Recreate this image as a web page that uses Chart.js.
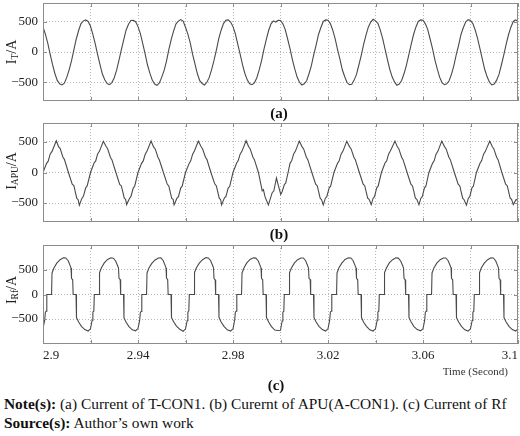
<!DOCTYPE html>
<html><head><meta charset="utf-8">
<script src="https://cdn.jsdelivr.net/npm/chart.js@4/dist/chart.umd.min.js"></script>
<style>
html,body{margin:0;padding:0;background:#fff;}
body{width:520px;height:436px;position:relative;overflow:hidden;font-family:"Liberation Serif","Times New Roman",serif;color:#111;}
canvas{position:absolute;left:0;}
.yt{position:absolute;transform:translate(-50%,-50%) rotate(-90deg);font-size:14px;white-space:nowrap;color:#222;}
.yt sub{font-size:9.5px;vertical-align:-2px;}
.cap{position:absolute;transform:translate(-50%,-50%);font-weight:bold;font-size:15px;}
.txt{position:absolute;white-space:nowrap;}
</style></head><body>
<canvas id="ca" width="520" height="104" style="top:0"></canvas>
<canvas id="cb" width="520" height="104" style="top:120px"></canvas>
<canvas id="cc" width="520" height="130" style="top:242px"></canvas>
<div class="yt" style="left:12px;top:52px">I<sub>T</sub>/A</div>
<div class="yt" style="left:12px;top:171px">I<sub>APU</sub>/A</div>
<div class="yt" style="left:12px;top:290px">I<sub>Rf</sub>/A</div>
<div class="cap" style="left:279px;top:113px">(a)</div>
<div class="cap" style="left:279px;top:234px">(b)</div>
<div class="cap" style="left:276px;top:385px">(c)</div>
<div class="txt" style="right:12px;top:365px;font-size:11px;color:#333">Time (Second)</div>
<div class="txt" style="left:4px;top:395px;font-size:15.4px"><b>Note(s):</b> (a) Current of T-CON1. (b) Curernt of APU(A-CON1). (c) Current of Rf</div>
<div class="txt" style="left:4px;top:414px;font-size:15.4px"><b>Source(s):</b> Author’s own work</div>
<script>
// time origin (s) and sample step of series (a) (s)
const T0 = 2.9;
const STEP_A = 0.001;
// x-axis ticks
const xTickValues = [2.9,2.92,2.94,2.96,2.98,3.0,3.02,3.04,3.06,3.08,3.1];
const xTickLabels = ['2.9','','2.94','','2.98','','3.02','','3.06','','3.1'];
// y-axis ticks
const yTickValues = [-500,0,500];
const yTickLabels = ['\u2212500','0','500'];
// (a) current of T-CON1, A, one sample per ms from 2.9 s
const iT = [
 415,295,145,-35,-205,-355,-470,-525,-545,-515,-420,-295,-145,35,215,355,470,515,530,505,
 425,290,135,-45,-210,-365,-460,-520,-540,-505,-425,-300,-135,40,205,365,460,520,525,500,
 420,305,140,-30,-215,-350,-465,-530,-550,-510,-415,-305,-150,45,210,350,465,510,535,510,
 410,295,150,-40,-200,-360,-475,-520,-545,-500,-420,-290,-140,30,220,360,470,525,530,495,
 420,300,130,-35,-210,-355,-460,-525,-540,-510,-430,-300,-145,40,205,355,465,515,495,525,
 520,465,370,215,55,-125,-280,-415,-500,-545,-525,-475,-360,-225,-45,115,290,405,505,530,
 525,470,360,220,45,-115,-290,-405,-505,-540,-535,-465,-370,-215,-55,125,280,415,495,540,
 515,475,365,225,50,-120,-285,-410,-495,-550,-530,-470,-360,-220,-50,120,285,410,505,530,
 525,465,370,215,55,-130,-280,-415,-505,-540,-525,-475,-365,-225,-45,115,290,405,500,535,
 520,470,360,220,50,-120,-290,-410,-500,-545,-530,-465,-370,-215,-50,125,285,410,505,530,
 510];
// (b) current of APU, [time in ms after 2.9 s, A]
const iAPU = [
 [0,0],[1.5,150],[2.2,185],[3,300],[3.8,345],[5.6,520],[6.6,420],[7.2,395],[8.4,250],[9,215],[10.7,0],[12.3,-190],[13,-215],[14.2,-420],[14.8,-445],[15.3,-535],[16.4,-420],[17,-390],[18,-250],[18.6,-220],
 [20,0],[21.5,155],[22.2,190],[23,305],[23.8,350],[25.4,510],[26.6,425],[27.2,390],[28.4,245],[29,210],[30.7,0],[32.3,-195],[33,-220],[34.2,-415],[34.8,-440],[35.2,-525],[36.4,-425],[37,-395],[38,-255],[38.6,-225],
 [40,0],[41.5,150],[42.2,190],[43,295],[43.8,350],[45.5,515],[46.6,415],[47.2,390],[48.4,250],[49,205],[50.7,0],[52.3,-190],[53,-225],[54.2,-425],[54.8,-440],[55.2,-530],[56.4,-420],[57,-400],[58,-250],[58.6,-225],
 [60,0],[61.5,145],[62.2,190],[63,300],[63.8,355],[65.4,515],[66.6,420],[67.2,385],[68.4,250],[69,215],[70.7,0],[72.3,-185],[73,-220],[74.2,-420],[74.8,-445],[75.2,-530],[76.4,-415],[77,-395],[78,-250],[78.6,-230],
 [80,0],[81.5,150],[82.2,195],[83,300],[83.8,350],[85.5,520],[86.6,420],[87.2,390],[88.4,250],[89,210],[90.7,0],[92.3,-300],[92.8,-280],[93.5,-400],[94.9,-530],[96.5,-330],[97.2,-300],[98.3,-90],[99,-200],[100.1,-360],
 [100.7,-310],[101.6,-200],[102.2,-170],[103.2,0],[104,150],[104.7,190],[105.5,300],[106.3,350],[107.9,515],[109.1,420],[109.7,390],[110.9,250],[111.5,210],[113.2,0],[114.8,-190],[115.5,-220],[116.7,-420],[117.3,-445],[118,-530],[118.9,-420],[119.5,-395],
 [120.5,-250],[121.1,-225],[122.5,0],[124,150],[124.7,190],[125.5,300],[126.3,350],[127.9,510],[129.1,420],[129.7,390],[130.9,250],[131.5,210],[133.2,0],[134.8,-190],[135.5,-220],[136.7,-420],[137.3,-440],[138.2,-525],[139,-420],[139.6,-395],
 [140.5,-250],[141.1,-225],[142.5,0],[144,155],[144.7,190],[145.5,300],[146.3,355],[148.2,515],[149.2,420],[149.8,390],[151,250],[151.6,210],[153.3,0],[154.9,-190],[155.6,-220],[156.8,-420],[157.4,-440],[158.3,-530],[159.1,-420],[159.7,-395],
 [160.6,-250],[161.2,-225],[162.5,0],[164,150],[164.7,190],[165.5,300],[166.3,350],[167.9,515],[169.1,420],[169.7,390],[170.9,250],[171.5,210],[173.2,0],[174.8,-190],[175.5,-220],[176.7,-420],[177.3,-445],[178.3,-535],[179.1,-420],[179.7,-395],
 [180.6,-250],[181.2,-225],[182.5,0],[184,150],[184.7,195],[185.5,300],[186.3,350],[188.1,515],[189.2,420],[189.8,390],[191,250],[191.6,210],[193.2,0],[194.8,-190],[195.5,-220],[196.7,-420],[197.3,-440],[198,-525],[199.2,-440],[200,-455]];
// (c) current of Rf, [time in ms after 2.9 s, A]
const iRf = [
 [0,-690],[0.7,-530],[1,-360],[1.4,-340],[1.6,0],[3.6,0],[3.8,440],[4.6,540],[5.8,640],[7.2,710],[8.6,748],[9.6,745],[10.6,690],[11.5,580],[11.8,540],[12,330],[12.5,300],[12.7,0],[13.9,0],[14.1,-470],[15,-560],[16.2,-650],[17.6,-715],[19,-745],
 [20,-700],[20.7,-525],[21,-355],[21.4,-340],[21.6,0],[23.6,0],[23.8,445],[24.6,545],[25.8,645],[27.2,715],[28.6,750],[29.6,740],[30.6,685],[31.5,575],[31.8,535],[32,330],[32.5,305],[32.7,0],[33.9,0],[34.1,-475],[35,-565],[36.2,-655],[37.6,-720],[39,-740],
 [40,-695],[40.7,-530],[41,-365],[41.4,-345],[41.6,0],[43.6,0],[43.8,440],[44.6,540],[45.8,635],[47.2,705],[48.6,745],[49.6,748],[50.6,695],[51.5,585],[51.8,540],[52,335],[52.5,300],[52.7,0],[53.9,0],[54.1,-470],[55,-555],[56.2,-645],[57.6,-710],[59,-750],
 [60,-705],[60.7,-535],[61,-360],[61.4,-335],[61.6,0],[63.6,0],[63.8,450],[64.6,545],[65.8,640],[67.2,710],[68.6,752],[69.6,745],[70.6,690],[71.5,580],[71.8,545],[72,325],[72.5,300],[72.7,0],[73.9,0],[74.1,-465],[75,-560],[76.2,-650],[77.6,-720],[79,-745],
 [80,-700],[80.7,-525],[81,-360],[81.4,-340],[81.6,0],[83.6,0],[83.8,440],[84.6,540],[85.8,645],[87.2,715],[88.6,748],[89.6,742],[90.6,690],[91.5,580],[91.8,540],[92,330],[92.5,300],[92.7,0],[93.9,0],[94.1,-470],[95,-560],[96.2,-655],[97.6,-725],[99,-735],
 [100,-730],[100.7,-540],[101,-360],[101.4,-340],[101.6,0],[103.6,0],[103.8,445],[104.6,540],[105.8,640],[107.2,710],[108.6,745],[109.6,745],[110.6,690],[111.5,575],[111.8,540],[112,330],[112.5,305],[112.7,0],[113.9,0],[114.1,-470],[115,-560],[116.2,-650],[117.6,-715],[119,-745],
 [120,-700],[120.7,-530],[121,-360],[121.4,-340],[121.6,0],[123.6,0],[123.8,440],[124.6,545],[125.8,640],[127.2,715],[128.6,750],[129.6,745],[130.6,690],[131.5,580],[131.8,540],[132,330],[132.5,300],[132.7,0],[133.9,0],[134.1,-470],[135,-565],[136.2,-650],[137.6,-720],[139,-745],
 [140,-700],[140.7,-525],[141,-355],[141.4,-340],[141.6,0],[143.6,0],[143.8,445],[144.6,540],[145.8,645],[147.2,710],[148.6,748],[149.6,742],[150.6,685],[151.5,580],[151.8,540],[152,330],[152.5,300],[152.7,0],[153.9,0],[154.1,-470],[155,-560],[156.2,-655],[157.6,-715],[159,-740],
 [160,-700],[160.7,-530],[161,-360],[161.4,-340],[161.6,0],[163.6,0],[163.8,440],[164.6,540],[165.8,640],[167.2,710],[168.6,746],[169.6,745],[170.6,690],[171.5,580],[171.8,545],[172,330],[172.5,300],[172.7,0],[173.9,0],[174.1,-470],[175,-560],[176.2,-650],[177.6,-720],[179,-745],
 [180,-700],[180.7,-530],[181,-360],[181.4,-340],[181.6,0],[183.6,0],[183.8,445],[184.6,545],[185.8,640],[187.2,710],[188.6,750],[189.6,745],[190.6,690],[191.5,580],[191.8,540],[192,330],[192.5,300],[192.7,0],[193.9,0],[194.1,-470],[195,-560],[196.2,-650],[197.6,-715],[199,-745],
 [200,-700]];

const LINE = '#4a4a4a', GRID = '#b8b8b8', FRAME = '#8c8c8c';
const FONT = {family:'"Liberation Serif","Times New Roman",serif', size:13};

const framePlugin = {
  id:'frame',
  afterDraw(chart){
    const {ctx, chartArea:a, scales} = chart;
    const x = scales.x, y = scales.y;
    ctx.save();
    ctx.strokeStyle = FRAME; ctx.lineWidth = 1;
    ctx.strokeRect(Math.round(a.left)+0.5, Math.round(a.top)+0.5, Math.round(a.right-a.left)-1, Math.round(a.bottom-a.top)-1);
    ctx.beginPath();
    x.ticks.forEach(t=>{const p=Math.round(x.getPixelForValue(t.value))+0.5;
      ctx.moveTo(p,a.top); ctx.lineTo(p,a.top+4); ctx.moveTo(p,a.bottom); ctx.lineTo(p,a.bottom-4);});
    y.ticks.forEach(t=>{const p=Math.round(y.getPixelForValue(t.value))+0.5;
      ctx.moveTo(a.left,p); ctx.lineTo(a.left+4,p); ctx.moveTo(a.right,p); ctx.lineTo(a.right-4,p);});
    ctx.stroke(); ctx.restore();
  }
};

function zeroPad(s){ s.paddingTop = 0; s.paddingBottom = 0; s.paddingLeft = 0; s.paddingRight = 0; }

function makeChart(id, points, yMax, showX, pad, xHeight){
  return new Chart(document.getElementById(id), {
    type:'line',
    data:{datasets:[{data:points, borderColor:LINE, borderWidth:1.1, pointRadius:0, tension:0, fill:false}]},
    options:{
      responsive:false, animation:false, events:[],
      layout:{padding:pad},
      plugins:{legend:{display:false}, tooltip:{enabled:false}},
      scales:{
        x:{type:'linear', min:T0, max:3.1,
           afterBuildTicks:s=>{s.ticks = xTickValues.map(v=>({value:v}));},
           afterFit:s=>{s.height = xHeight; zeroPad(s);},
           grid:{color:GRID, lineWidth:1, drawTicks:false},
           border:{display:false, dash:[1,2]},
           ticks:{display:showX, autoSkip:false, maxRotation:0, align:'inner', padding:4, color:'#222', font:FONT,
                  callback:(v,i)=>xTickLabels[i]}},
        y:{min:-yMax, max:yMax,
           afterBuildTicks:s=>{s.ticks = yTickValues.map(v=>({value:v}));},
           afterFit:s=>{s.width = 43; zeroPad(s);},
           grid:{color:GRID, lineWidth:1, drawTicks:false},
           border:{display:false, dash:[1,2]},
           ticks:{padding:5, color:'#222', font:FONT, callback:(v,i)=>yTickLabels[i]}}
      }
    },
    plugins:[framePlugin]
  });
}

const ptsA = iT.map((v,k)=>({x:T0 + k*STEP_A, y:v}));
const ptsB = iAPU.map(([t,v])=>({x:T0 + t/1000, y:v}));
const ptsC = iRf.map(([t,v])=>({x:T0 + t/1000, y:v}));

makeChart('ca', ptsA, 810, false, {left:0,right:2,top:3,bottom:3}, 0);
makeChart('cb', ptsB, 810, false, {left:0,right:2,top:3,bottom:2}, 0);
makeChart('cc', ptsC, 1010, true, {left:0,right:2,top:3,bottom:0}, 28);
</script>
</body></html>
